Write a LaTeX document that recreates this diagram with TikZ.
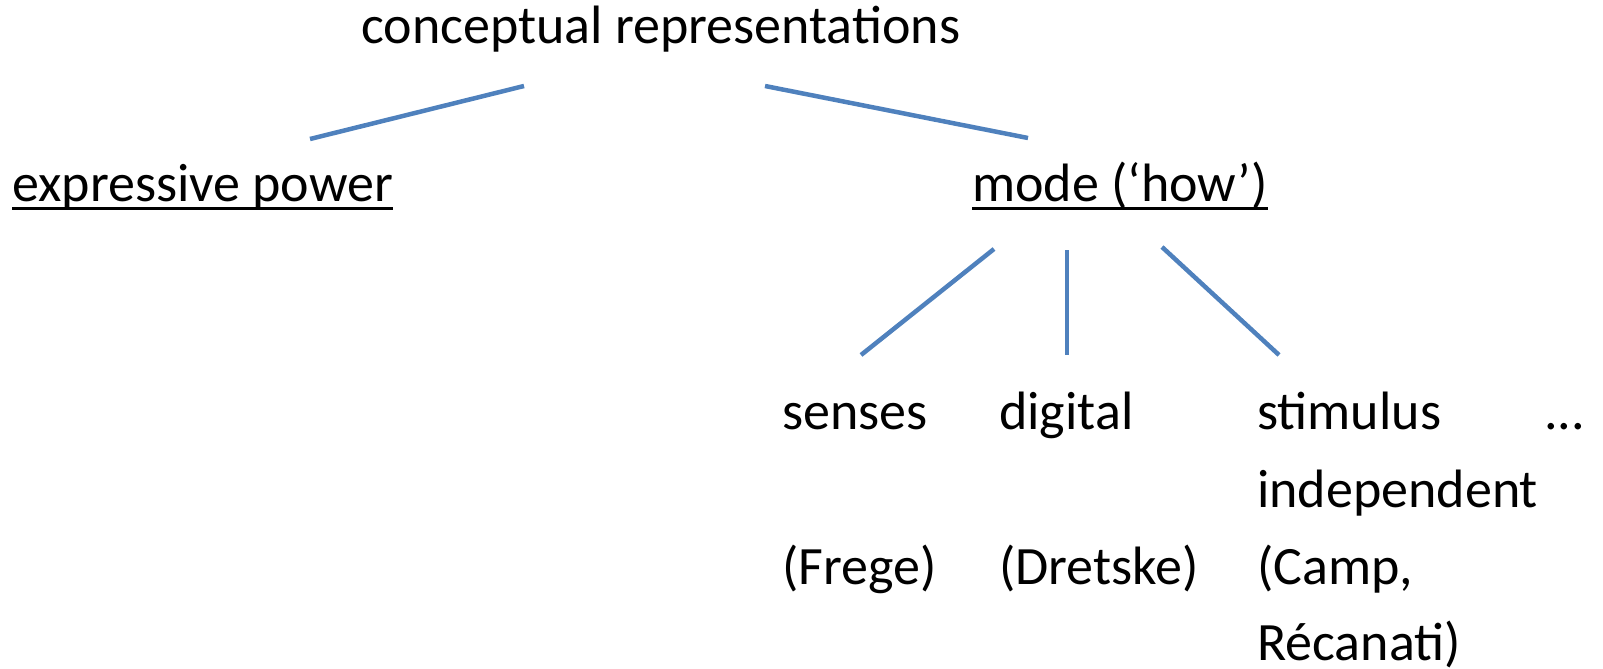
\documentclass[tikz,border=0pt]{standalone}
\usepackage{fontspec}
\setmainfont{Carlito}
\definecolor{lineblue}{HTML}{4F81BD}
\begin{document}
\begin{tikzpicture}[x=1pt,y=-1pt,
  lbl/.style={inner sep=0pt,anchor=base west,font=\fontsize{54}{64}\selectfont},
  branch/.style={draw=lineblue,line width=4.5pt},
  uline/.style={line width=3pt}]
\useasboundingbox (0,0) rectangle (1603,669);
\node[lbl] (root) at (361,44) {conceptual representations};
\node[lbl] (ep) at (12,201) {expressive power};
\node[lbl] (mode) at (972,201) {mode (‘how’)};
\draw[uline] ([yshift=-7pt]ep.base west) -- ([yshift=-7pt]ep.base east);
\draw[uline] ([yshift=-7pt]mode.base west) -- ([yshift=-7pt]mode.base east);
\node[lbl] (senses) at (782,429) {senses};
\node[lbl] (digital) at (999,429) {digital};
\node[lbl] (stim) at (1257,429) {stimulus};
\node[lbl] (dots) at (1544,429) {...};
\node[lbl] (indep) at (1257,507) {independent};
\node[lbl] (frege) at (782,584) {(Frege)};
\node[lbl] (dretske) at (999,584) {(Dretske)};
\node[lbl] (camp) at (1257,584) {(Camp,};
\node[lbl] (recanati) at (1257,660) {Récanati)};
\coordinate (r1) at (524,86);  \coordinate (e1) at (310,139);
\coordinate (r2) at (765,86);  \coordinate (m1) at (1028,138);
\coordinate (m2) at (994,249); \coordinate (s1) at (861,355);
\coordinate (m3) at (1067,250); \coordinate (d1) at (1067,355);
\coordinate (m4) at (1162,247); \coordinate (t1) at (1279,355);
\draw[branch] (r1) -- (e1);
\draw[branch] (r2) -- (m1);
\draw[branch] (m2) -- (s1);
\draw[branch] (m3) -- (d1);
\draw[branch] (m4) -- (t1);
\end{tikzpicture}
\end{document}
